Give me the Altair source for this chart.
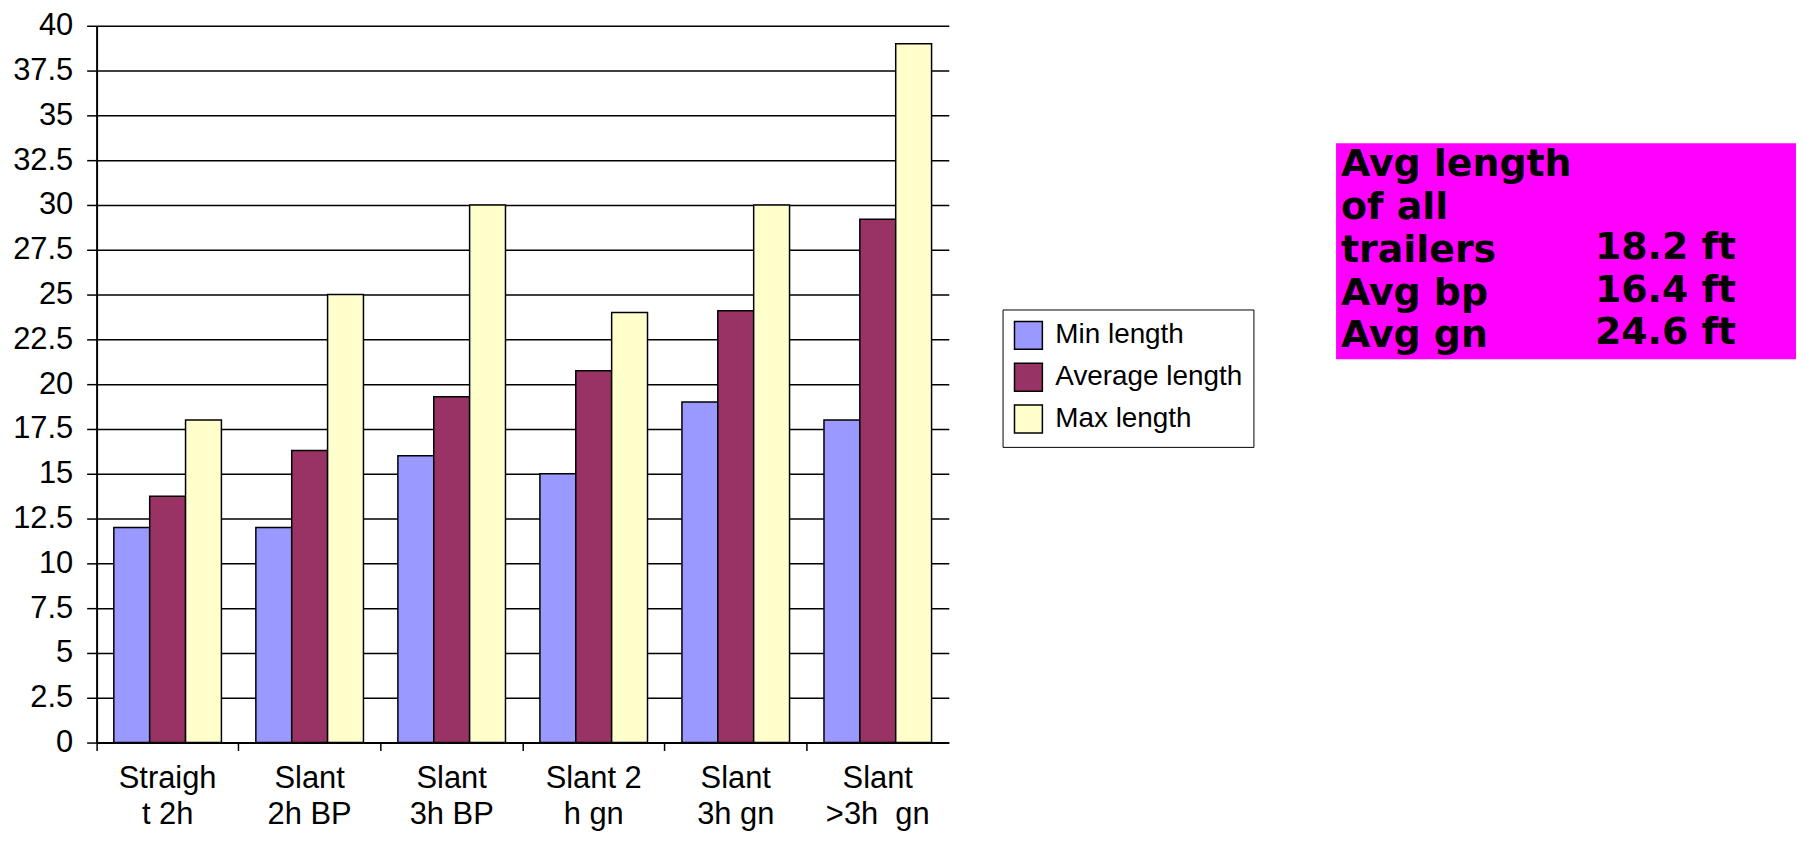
import altair as alt
import pandas as pd

# ---- data ----
categories = ["Straigh|t 2h", "Slant|2h BP", "Slant|3h BP", "Slant 2|h gn", "Slant|3h gn", "Slant|>3h\u00a0 gn"]
series = ["Min length", "Average length", "Max length"]
min_len = [12, 12, 16, 15, 19, 18]
avg_len = [13.75, 16.3, 19.3, 20.75, 24.1, 29.2]
max_len = [18, 25, 30, 24, 30, 39]
colors = ["#9999FF", "#993366", "#FFFFCC"]
y_ticks = [0, 2.5, 5, 7.5, 10, 12.5, 15, 17.5, 20, 22.5, 25, 27.5, 30, 32.5, 35, 37.5, 40]
note_labels = ["Avg length", "of all", "trailers", "Avg bp", "Avg gn"]
note_values = ["18.2 ft", "16.4 ft", "24.6 ft"]

rows = []
for s, vals in zip(series, [min_len, avg_len, max_len]):
    for c, v in zip(categories, vals):
        rows.append({"cat": c, "series": s, "value": v})
df = pd.DataFrame(rows)

FONT = "Liberation Sans"

bars = alt.Chart(df).mark_bar(stroke="black", strokeWidth=1.5).encode(
    x=alt.X(
        "cat:N",
        sort=categories,
        scale=alt.Scale(paddingInner=0, paddingOuter=0),
        axis=alt.Axis(
            title=None,
            labelExpr="split(datum.label, '|')",
            labelAngle=0,
            labelFont=FONT,
            labelFontSize=31,
            labelColor="black",
            labelLineHeight=36,
            labelPadding=13,
            labelBaseline="top",
            labelLimit=300,
            tickSize=8,
            tickColor="black",
            tickWidth=1.5,
            bandPosition=0,
            domainColor="black",
            domainWidth=2,
            grid=False,
        ),
    ),
    xOffset=alt.XOffset("series:N", sort=series, scale=alt.Scale(paddingInner=0, paddingOuter=0.48)),
    y=alt.Y(
        "value:Q",
        scale=alt.Scale(domain=[0, 40], nice=False),
        axis=alt.Axis(
            title=None,
            values=y_ticks,
            labelExpr="'' + datum.value",
            labelFont=FONT,
            labelFontSize=31,
            labelColor="black",
            labelPadding=14,
            labelOverlap=False,
            tickSize=10,
            tickColor="black",
            tickWidth=1.5,
            domainColor="black",
            domainWidth=2,
            gridColor="black",
            gridWidth=1.5,
            gridOpacity=1,
        ),
    ),
    color=alt.Color(
        "series:N",
        sort=series,
        scale=alt.Scale(domain=series, range=colors),
        legend=alt.Legend(
            title=None,
            orient="none",
            legendX=910,
            legendY=285,
            strokeColor="black",
            fillColor="white",
            padding=11,
            symbolType="square",
            symbolSize=784,
            symbolStrokeColor="black",
            symbolStrokeWidth=1.5,
            symbolOpacity=1,
            labelFont=FONT,
            labelFontSize=28,
            labelColor="black",
            labelOffset=12,
            rowPadding=8,
            labelLimit=400,
        ),
    ),
)

one = pd.DataFrame({"k": [0]})
box = alt.Chart(one).mark_rect(color="#FF00FF").encode(
    x=alt.value(1245), x2=alt.value(1710), y=alt.value(118), y2=alt.value(335)
)

left_text = alt.Chart(pd.DataFrame({"t": ["\n".join(note_labels)]})).mark_text(
    align="left", baseline="alphabetic", lineBreak="\n", lineHeight=43,
    font="DejaVu Sans", fontWeight="bold", fontSize=38, color="black",
).encode(x=alt.value(1250), y=alt.value(151), text="t:N")

right_text = alt.Chart(pd.DataFrame({"t": ["\n".join(note_values)]})).mark_text(
    align="left", baseline="alphabetic", lineBreak="\n", lineHeight=43,
    font="DejaVu Sans", fontWeight="bold", fontSize=38, color="black",
).encode(x=alt.value(1505), y=alt.value(234), text="t:N")

chart = alt.layer(bars, box, left_text, right_text).properties(
    width=856,
    height=720,
    padding={"left": 89, "top": 16, "right": 851, "bottom": 89},
    autosize=alt.AutoSizeParams(type="none"),
).configure_view(stroke=None)

chart.save("out.html", embed_options={"renderer": "svg", "actions": False})
